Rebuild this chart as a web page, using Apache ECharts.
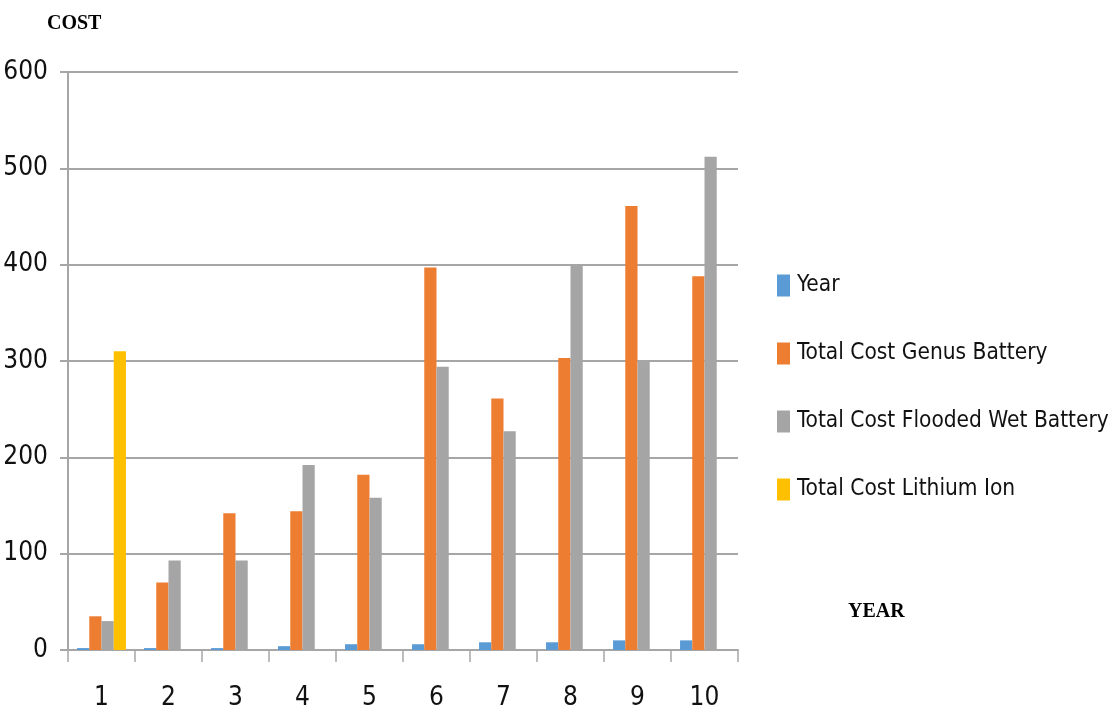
<!DOCTYPE html>
<html>
<head>
<meta charset="utf-8">
<script src="https://cdn.jsdelivr.net/npm/echarts@6/dist/echarts.min.js"></script>
<style>
  html, body { margin: 0; padding: 0; background: #fff; }
  #chart { width: 1114px; height: 715px; }
</style>
</head>
<body>
<div id="chart"></div>
<script>
const years = ['1', '2', '3', '4', '5', '6', '7', '8', '9', '10']
const yearValues = [2, 2, 2, 4, 6, 6, 8, 8, 10, 10]
const genusCost = [35, 70, 142, 144, 182, 397, 261, 303, 461, 388]
const floodedCost = [30, 93, 93, 192, 158, 294, 227, 400, 300, 512]
const lithiumCost = [310, null, null, null, null, null, null, null, null, null]

const labelFont = "'DejaVu Sans Condensed', 'DejaVu Sans', sans-serif"
const axisGray = '#a6a6a6'

const chart = echarts.init(document.getElementById('chart'), null, { renderer: 'canvas' })

chart.setOption({
  animation: false,
  backgroundColor: '#fff',
  grid: { left: 68, right: 376, top: 72, bottom: 65, containLabel: false },
  title: [
    { text: 'COST', left: 47, top: 14, padding: 0, textStyle: { fontFamily: 'Liberation Serif', fontWeight: 'bold', fontSize: 20, color: '#000' } },
    { text: 'YEAR', left: 848, top: 602, padding: 0, textStyle: { fontFamily: 'Liberation Serif', fontWeight: 'bold', fontSize: 20, color: '#000' } },
  ],
  legend: {
    orient: 'vertical',
    left: 777,
    top: 274,
    padding: 0,
    itemWidth: 13,
    itemHeight: 22,
    itemGap: 45,
    icon: 'rect',
    textStyle: { fontFamily: labelFont, fontSize: 22.5, color: '#111', padding: [0, 0, 0, 2] },
  },
  xAxis: {
    type: 'category',
    data: years,
    axisLine: { lineStyle: { color: axisGray, width: 2 } },
    axisTick: { show: true, length: 12, lineStyle: { color: axisGray, width: 1.5 } },
    axisLabel: { fontFamily: labelFont, fontSize: 26, color: '#111', margin: 35 },
  },
  yAxis: {
    type: 'value',
    min: 0,
    max: 600,
    interval: 100,
    axisLine: { show: true, lineStyle: { color: axisGray, width: 2 } },
    axisTick: { show: true, length: 8, lineStyle: { color: axisGray, width: 2 } },
    axisLabel: { fontFamily: labelFont, fontSize: 26, color: '#111', margin: 20 },
    splitLine: { lineStyle: { color: axisGray, width: 2 } },
  },
  series: [
    { name: 'Year', type: 'bar', data: yearValues, itemStyle: { color: '#5b9bd5' }, barGap: '0%', barCategoryGap: '27%' },
    { name: 'Total Cost Genus Battery', type: 'bar', data: genusCost, itemStyle: { color: '#ed7d31' } },
    { name: 'Total Cost Flooded Wet Battery', type: 'bar', data: floodedCost, itemStyle: { color: '#a5a5a5' } },
    { name: 'Total Cost Lithium Ion', type: 'bar', data: lithiumCost, itemStyle: { color: '#ffc000' } },
  ],
})
</script>
</body>
</html>
